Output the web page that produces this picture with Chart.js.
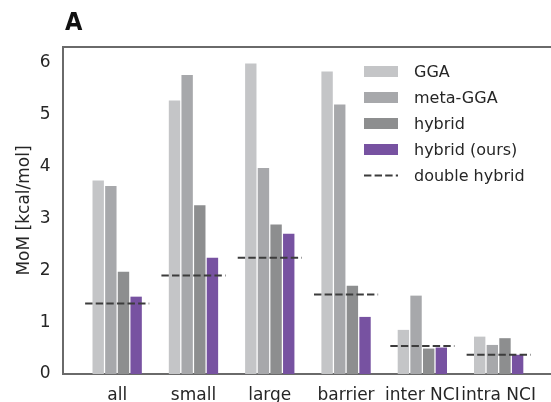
<!DOCTYPE html>
<html>
<head>
<meta charset="utf-8">
<script src="https://cdn.jsdelivr.net/npm/chart.js@4/dist/chart.umd.min.js"></script>
<style>
  html, body { margin: 0; padding: 0; background: #fff; overflow: hidden; }
  #wrap { position: relative; width: 551px; height: 402px; }
  #panel { position: absolute; left: 65px; top: 7px; font-family: "Liberation Sans Narrow", "DejaVu Sans Condensed", sans-serif; font-weight: bold; font-size: 25px; color: #111; }
  #legend { position: absolute; left: 364px; top: 58px; font-family: "DejaVu Sans", sans-serif; font-size: 16px; color: #262626; }
  .row { height: 26.1px; display: flex; align-items: center; }
  .sw { width: 34px; height: 11px; margin-right: 16px; }
</style>
</head>
<body>
<div id="wrap">
  <canvas id="c" width="551" height="402"></canvas>
  <div id="panel">A</div>
  <div id="legend"></div>
</div>
<script>
const categories = ['all', 'small', 'large', 'barrier', 'inter NCI', 'intra NCI'];
const gga          = [3.73, 5.27, 5.98, 5.83, 0.85, 0.72];
const metaGga      = [3.62, 5.76, 3.97, 5.19, 1.51, 0.56];
const hybrid       = [1.97, 3.25, 2.88, 1.70, 0.49, 0.69];
const hybridOurs   = [1.49, 2.24, 2.70, 1.10, 0.51, 0.37];
const doubleHybrid = [1.36, 1.90, 2.24, 1.53, 0.54, 0.37];
const yTicks = [0, 1, 2, 3, 4, 5, 6];

const barSeries = [
  { name: 'GGA', values: gga, color: '#c4c5c7' },
  { name: 'meta-GGA', values: metaGga, color: '#a7a8ab' },
  { name: 'hybrid', values: hybrid, color: '#8d8e8f' },
  { name: 'hybrid (ours)', values: hybridOurs, color: '#7752a1' }
];
const dhName = 'double hybrid';
const dhColor = '#3c3c3c';

const datasets = barSeries.map(s => ({
  type: 'bar',
  label: s.name,
  data: s.values.map((v, i) => ({ x: i, y: v })),
  backgroundColor: s.color,
  borderWidth: 0,
  categoryPercentage: 0.663,
  barPercentage: 0.9,
  order: 2
}));

const dhData = [];
doubleHybrid.forEach((v, i) => {
  dhData.push({ x: i - 0.42, y: v });
  dhData.push({ x: i + 0.42, y: v });
  dhData.push({ x: i + 0.5, y: null });
});
datasets.push({
  type: 'line',
  label: dhName,
  data: dhData,
  borderColor: dhColor,
  borderWidth: 2,
  borderDash: [7.4, 3.2],
  pointRadius: 0,
  spanGaps: false,
  fill: false,
  order: 1
});

const frame = {
  id: 'frame',
  afterDraw(chart) {
    const { ctx, chartArea } = chart;
    ctx.save();
    ctx.strokeStyle = '#6a6a6a';
    ctx.lineWidth = 2;
    ctx.beginPath();
    ctx.moveTo(chartArea.left - 1, chartArea.top);
    ctx.lineTo(chartArea.right, chartArea.top);
    ctx.stroke();
    ctx.restore();
  }
};

new Chart(document.getElementById('c'), {
  type: 'bar',
  data: { datasets },
  plugins: [frame],
  options: {
    responsive: false,
    devicePixelRatio: 1,
    animation: false,
    layout: { padding: { top: 47, left: 0, right: 0, bottom: 0 } },
    plugins: { legend: { display: false }, tooltip: { enabled: false } },
    scales: {
      x: {
        type: 'linear',
        offset: false,
        min: -0.71,
        max: 5.686,
        grid: { display: false, drawTicks: false, offset: false },
        border: { display: true, color: '#6a6a6a', width: 2 },
        afterBuildTicks: ax => { ax.ticks = categories.map((_, i) => ({ value: i })); },
        afterFit: ax => { ax.height = 28; },
        ticks: {
          autoSkip: false,
          maxRotation: 0,
          padding: 11,
          color: '#262626',
          font: { family: 'DejaVu Sans', size: 17 },
          callback: v => categories[v]
        }
      },
      y: {
        min: 0,
        max: 6.3,
        grid: { display: false, drawTicks: false },
        border: { display: true, color: '#6a6a6a', width: 2 },
        afterBuildTicks: ax => { ax.ticks = yTicks.map(v => ({ value: v })); },
        afterFit: ax => { ax.width = 63; },
        ticks: {
          padding: 12.5,
          color: '#262626',
          font: { family: 'DejaVu Sans', size: 17 }
        },
        title: {
          display: true,
          text: 'MoM [kcal/mol]',
          color: '#262626',
          padding: { top: 14, bottom: 0 },
          font: { family: 'DejaVu Sans', size: 17 }
        }
      }
    }
  }
});

// legend
const leg = document.getElementById('legend');
barSeries.forEach(s => {
  const r = document.createElement('div');
  r.className = 'row';
  r.innerHTML = '<div class="sw" style="background:' + s.color + '"></div><span>' + s.name + '</span>';
  leg.appendChild(r);
});
const r = document.createElement('div');
r.className = 'row';
r.innerHTML = '<svg width="34" height="11" style="margin-right:16px"><line x1="0" y1="5.5" x2="34" y2="5.5" stroke="' + dhColor + '" stroke-width="2" stroke-dasharray="7.4 3.2"/></svg><span>' + dhName + '</span>';
leg.appendChild(r);
</script>
</body>
</html>
